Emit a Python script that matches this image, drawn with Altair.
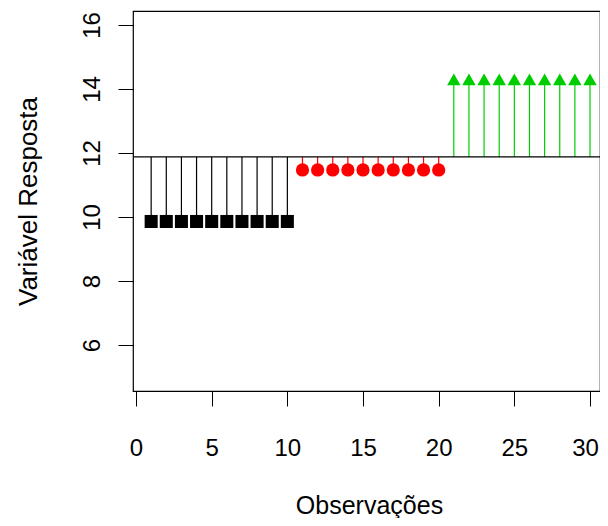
import altair as alt
import pandas as pd

# Data
observacoes = list(range(1, 31))
grupos = ["A"] * 10 + ["B"] * 10 + ["C"] * 10
valores = [9.86] * 10 + [11.47] * 10 + [14.30] * 10
grupo_nomes = ["A", "B", "C"]
cores = ["#000000", "#FF0000", "#00CD00"]
formas = ["square", "circle", "triangle-up"]
tamanhos = [170, 180, 225]
x_ticks = [0, 5, 10, 15, 20, 25, 30]
y_ticks = [6, 8, 10, 12, 14, 16]

df = pd.DataFrame({"obs": observacoes, "grupo": grupos, "valor": valores})
media = df["valor"].mean()
df["media"] = media
mean_df = pd.DataFrame({"media": [media]})

FONT = "Liberation Sans"
FS = 24

x_enc = alt.X(
    "obs:Q",
    scale=alt.Scale(domain=[-0.2, 30.66], nice=False, zero=False),
    axis=alt.Axis(
        values=x_ticks, grid=False, domain=False, tickSize=15, tickColor="black",
        tickWidth=1, labelFontSize=FS, labelFont=FONT, labelColor="black",
        labelPadding=30, labelBaseline="top", labelFlush=False,
        labelOffset=alt.expr("datum.value == 30 ? -5 : 0"),
        title="Observações", titleFontSize=25, titleFont=FONT, titleFontWeight="normal",
        titleColor="black", titleX=236, titleY=122, titleBaseline="alphabetic",
        titleAlign="center",
    ),
)
y_enc = alt.Y(
    "valor:Q",
    scale=alt.Scale(domain=[4.5625, 16.4375], nice=False, zero=False),
    axis=alt.Axis(
        values=y_ticks, grid=False, domain=False, tickSize=15, tickColor="black",
        tickWidth=1, labelFontSize=FS, labelFont=FONT, labelColor="black",
        labelAngle=270, labelAlign="center", labelBaseline="alphabetic",
        labelPadding=19, labelFlush=False,
        title="Variável Resposta", titleFontSize=26, titleFont=FONT,
        titleFontWeight="normal", titleColor="black", titleAngle=270,
        titleX=-97, titleY=190, titleBaseline="alphabetic", titleAlign="center",
    ),
)
color_enc = alt.Color("grupo:N", scale=alt.Scale(domain=grupo_nomes, range=cores), legend=None)

segs = alt.Chart(df).mark_rule(strokeWidth=1.2).encode(
    x=x_enc, y=y_enc, y2=alt.Y2("media:Q"), color=color_enc
)
pts = alt.Chart(df).mark_point(filled=True, opacity=1, strokeWidth=0).encode(
    x=x_enc, y=y_enc, color=color_enc,
    shape=alt.Shape("grupo:N", scale=alt.Scale(domain=grupo_nomes, range=formas), legend=None),
    size=alt.Size("grupo:N", scale=alt.Scale(domain=grupo_nomes, range=tamanhos), legend=None),
)
mline = alt.Chart(mean_df).mark_rule(color="black", strokeWidth=1.2).encode(y=alt.Y("media:Q"))

chart = alt.layer(segs, mline, pts).properties(
    width=467, height=380,
    padding={"left": 125, "top": 3, "right": 0, "bottom": 127},
    autosize=alt.AutoSizeParams(type="none"),
).configure_view(stroke="black", strokeWidth=1.2)

chart.save("out.html", embed_options={"renderer": "svg", "actions": False})
